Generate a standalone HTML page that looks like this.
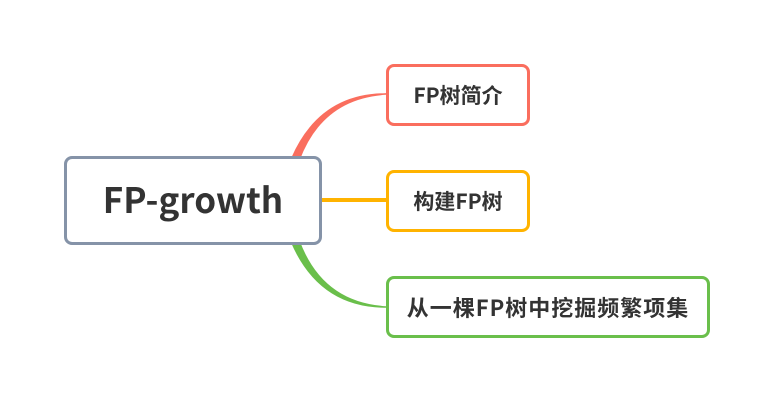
<!DOCTYPE html>
<html><head><meta charset="utf-8"><style>
body{margin:0;width:772px;height:400px;background:#fff;position:relative;overflow:hidden;font-family:"Noto Sans CJK SC","Liberation Sans",sans-serif;color:#333}
.b{position:absolute;box-sizing:border-box;background:#fff;display:flex;align-items:center;justify-content:center;font-weight:bold;border-radius:8px}
</style></head><body>
<svg width="772" height="400" style="position:absolute;left:0;top:0">
<path d="M292,158 Q320,94 386,94 Q322,98 299,160 Z" fill="#fa6e5e" stroke="#fa6e5e" stroke-width="1.5"/>
<path d="M292,243 Q320,307 386,307 Q322,303 299,241 Z" fill="#6abf4b" stroke="#6abf4b" stroke-width="1.5"/>
<rect x="320" y="198" width="66" height="4" fill="#ffb300"/>
</svg>
<div class="b" style="left:64px;top:156px;width:258px;height:89px;border:3px solid #8593a8;font-size:35px;padding-bottom:4px">FP-growth</div>
<div class="b" style="left:386px;top:64px;width:144px;height:62px;border:3px solid #fa6e5e;font-size:21px">FP树简介</div>
<div class="b" style="left:386px;top:170px;width:144px;height:62px;border:3px solid #ffb300;font-size:21px">构建FP树</div>
<div class="b" style="left:386px;top:276px;width:324px;height:62px;border:3px solid #6abf4b;font-size:22px;letter-spacing:1px">从一棵FP树中挖掘频繁项集</div>
</body></html>
